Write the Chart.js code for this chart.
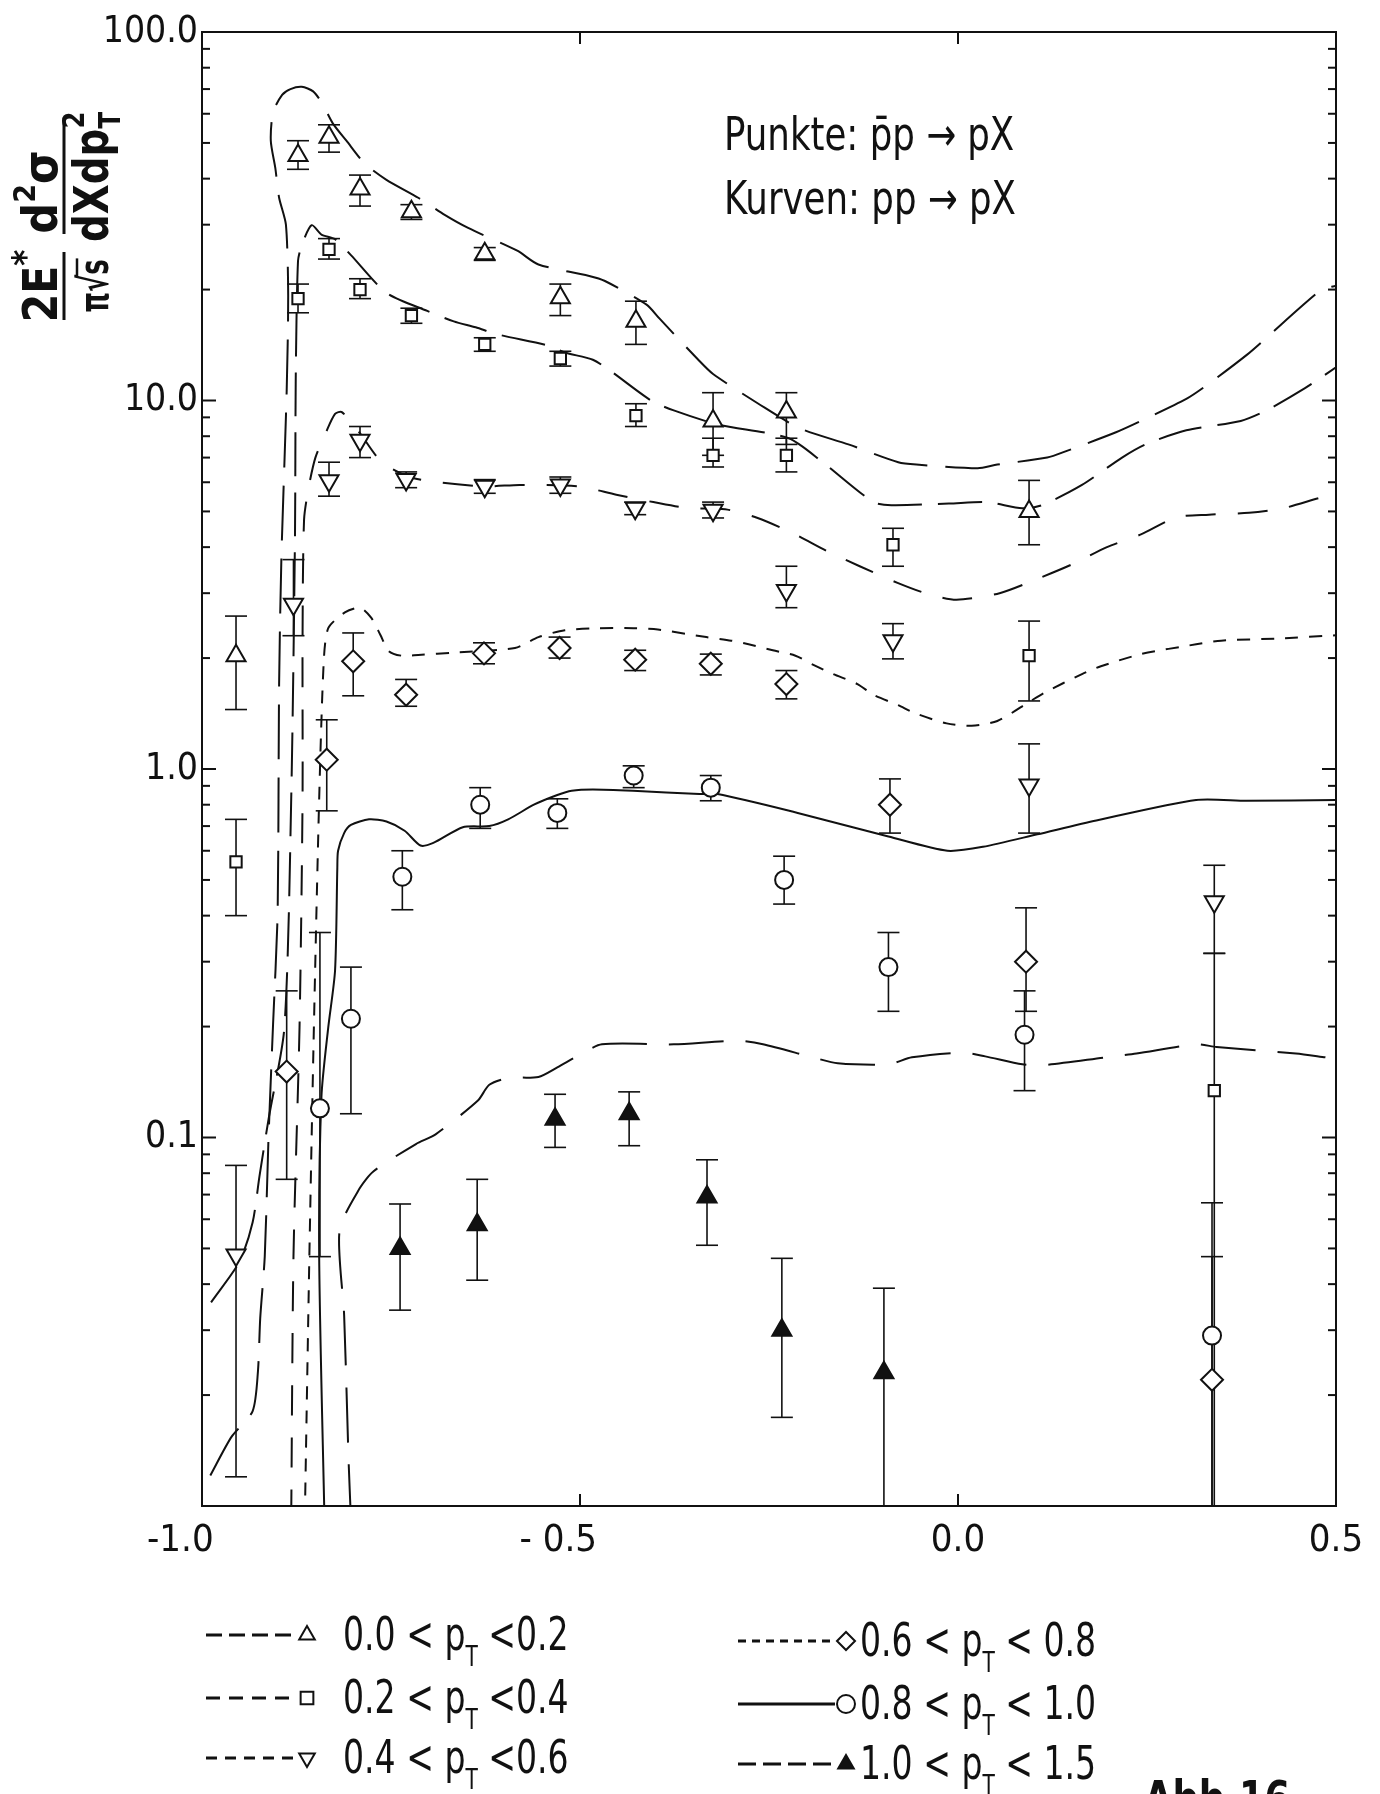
<!DOCTYPE html>
<html>
<head>
<meta charset="utf-8">
<script src="https://cdn.jsdelivr.net/npm/chart.js@4.4.0/dist/chart.umd.min.js"></script>
<style>
  html, body { margin: 0; padding: 0; background: #fff; }
  #wrap { width: 1380px; height: 1794px; }
</style>
</head>
<body>
<div id="wrap"><canvas id="chart" width="1380" height="1794"></canvas></div>
<script>
const INK = '#111';
const FONT = "'DejaVu Sans Condensed', 'Liberation Sans Narrow', sans-serif";

// axis ticks
const xTickValues = [-1.0, -0.5, 0.0, 0.5];
const xTickLabels = ['-1.0    ', '- 0.5    ', '0.0', '0.5'];
const yTickValues = [0.1, 1, 10, 100];
const yTickLabels = ['0.1', '1.0', '10.0', '100.0'];

// pT bins (legend)
const binLow  = ['0.0', '0.2', '0.4', '0.6', '0.8', '1.0'];
const binHigh = ['0.2', '0.4', '0.6', '0.8', '1.0', '1.5'];

// Punkte: pbar p -> pX   (value, error low, error high)
const tri_x  = [-0.955, -0.873, -0.832, -0.791, -0.723, -0.626, -0.526, -0.426, -0.324, -0.227, 0.094];
const tri_y  = [2.03, 46.2, 51.8, 37.5, 32.5, 25.0, 19.0, 16.4, 8.8, 9.3, 5.0];
const tri_lo = [1.45, 42.4, 47.2, 33.7, 31.0, 24.0, 17.0, 14.2, 7.1, 7.6, 4.06];
const tri_hi = [2.6, 50.7, 56.0, 40.9, 34.0, 26.0, 20.7, 18.6, 10.5, 10.5, 6.07];

const sq_x  = [-0.955, -0.873, -0.832, -0.791, -0.723, -0.626, -0.526, -0.426, -0.324, -0.227, -0.086, 0.094, 0.339];
const sq_y  = [0.56, 18.9, 25.7, 20.0, 17.0, 14.2, 13.0, 9.1, 7.1, 7.1, 4.06, 2.03, 0.134];
const sq_lo = [0.40, 17.3, 24.2, 18.9, 16.2, 13.6, 12.4, 8.5, 6.6, 6.4, 3.55, 1.53, 0.0095];
const sq_hi = [0.73, 20.7, 27.5, 21.4, 17.8, 14.8, 13.6, 9.8, 7.9, 7.9, 4.5, 2.52, 0.316];

const dtri_x  = [-0.955, -0.879, -0.832, -0.791, -0.730, -0.626, -0.526, -0.427, -0.324, -0.227, -0.086, 0.094, 0.339];
const dtri_y  = [0.048, 2.8, 6.06, 7.8, 6.1, 5.85, 5.9, 5.1, 5.04, 3.05, 2.23, 0.905, 0.436];
const dtri_lo = [0.012, 2.3, 5.5, 7.0, 5.8, 5.6, 5.6, 4.9, 4.8, 2.74, 1.99, 0.67, 0.316];
const dtri_hi = [0.084, 3.7, 6.8, 8.5, 6.4, 6.1, 6.2, 5.3, 5.3, 3.55, 2.48, 1.17, 0.548];

const dia_x  = [-0.888, -0.835, -0.800, -0.730, -0.627, -0.527, -0.427, -0.327, -0.227, -0.090, 0.090, 0.336];
const dia_y  = [0.151, 1.06, 1.96, 1.59, 2.06, 2.13, 1.98, 1.93, 1.70, 0.80, 0.30, 0.022];
const dia_lo = [0.077, 0.77, 1.58, 1.48, 1.93, 2.0, 1.85, 1.80, 1.55, 0.67, 0.22, 0.0095];
const dia_hi = [0.25, 1.36, 2.34, 1.75, 2.2, 2.28, 2.1, 2.05, 1.85, 0.94, 0.42, 0.0475];

const circ_x  = [-0.844, -0.803, -0.735, -0.632, -0.530, -0.429, -0.327, -0.230, -0.092, 0.088, 0.336];
const circ_y  = [0.12, 0.21, 0.51, 0.80, 0.76, 0.96, 0.89, 0.50, 0.29, 0.19, 0.029];
const circ_lo = [0.0475, 0.116, 0.415, 0.69, 0.69, 0.89, 0.82, 0.43, 0.22, 0.134, 0.0095];
const circ_hi = [0.36, 0.29, 0.60, 0.89, 0.83, 1.02, 0.96, 0.58, 0.36, 0.25, 0.0665];

const ftri_x  = [-0.738, -0.636, -0.533, -0.435, -0.332, -0.233, -0.098];
const ftri_y  = [0.050, 0.058, 0.112, 0.116, 0.069, 0.030, 0.023];
const ftri_lo = [0.034, 0.041, 0.094, 0.095, 0.051, 0.0174, 0.0095];
const ftri_hi = [0.066, 0.077, 0.131, 0.133, 0.087, 0.047, 0.039];

// Kurven: pp -> pX
const curveA_x = [-0.989, -0.961, -0.933, -0.926, -0.923, -0.917, -0.912, -0.906, -0.900, -0.898, -0.895, -0.888, -0.886, -0.889, -0.898, -0.903, -0.909, -0.906, -0.894, -0.883, -0.868, -0.853, -0.841, -0.827, -0.809, -0.785, -0.756, -0.714, -0.679, -0.648, -0.583, -0.555, -0.489, -0.467, -0.412, -0.395, -0.342, -0.324, -0.264, -0.209, -0.145, -0.079, -0.055, 0.026, 0.052, 0.118, 0.144, 0.209, 0.242, 0.302, 0.329, 0.382, 0.408, 0.453, 0.480, 0.5];
const curveA_y = [0.0121, 0.0154, 0.0181, 0.0232, 0.0323, 0.0475, 0.100, 0.203, 0.406, 1.70, 3.73, 10.6, 19.3, 30.0, 35.5, 42.7, 50.7, 60.6, 67.5, 70, 71, 69, 64, 56.5, 50.7, 44, 39.7, 35.5, 31.9, 29.4, 25.5, 23.4, 21.8, 21.1, 18.2, 16.7, 12.8, 11.8, 9.8, 8.4, 7.6, 6.8, 6.7, 6.55, 6.7, 7.0, 7.3, 8.2, 8.8, 10.1, 11.0, 13.3, 14.8, 17.9, 19.9, 20.5];

const curveB_x = [-0.988, -0.950, -0.933, -0.924, -0.912, -0.891, -0.882, -0.877, -0.876, -0.873, -0.868, -0.855, -0.842, -0.824, -0.803, -0.756, -0.702, -0.667, -0.638, -0.608, -0.542, -0.520, -0.483, -0.459, -0.406, -0.376, -0.317, -0.224, -0.179, -0.112, -0.088, -0.012, 0.038, 0.085, 0.111, 0.164, 0.217, 0.248, 0.302, 0.374, 0.408, 0.459, 0.5];
const curveB_y = [0.0357, 0.0462, 0.0589, 0.0784, 0.112, 0.199, 0.830, 4.30, 11.5, 23.9, 26.4, 29.9, 28.2, 27.4, 24.8, 19.6, 17.5, 16.4, 15.8, 15.1, 14.1, 13.5, 12.9, 12.0, 10.0, 9.4, 8.6, 7.9, 6.8, 5.3, 5.2, 5.25, 5.3, 5.1, 5.2, 5.9, 7.0, 7.6, 8.3, 8.8, 9.4, 10.8, 12.3];

const curveC_x = [-0.882, -0.879, -0.871, -0.867, -0.867, -0.865, -0.859, -0.850, -0.836, -0.824, -0.815, -0.792, -0.762, -0.720, -0.629, -0.580, -0.502, -0.452, -0.403, -0.356, -0.308, -0.265, -0.218, -0.173, -0.130, -0.080, -0.041, -0.002, 0.055, 0.105, 0.152, 0.197, 0.242, 0.289, 0.332, 0.385, 0.430, 0.480, 0.506];
const curveC_y = [0.0092, 0.0475, 0.199, 0.830, 2.26, 4.75, 5.8, 7.0, 8.2, 9.2, 9.3, 8.2, 6.8, 6.15, 5.85, 5.9, 5.85, 5.55, 5.3, 5.1, 5.07, 4.8, 4.36, 3.9, 3.55, 3.2, 2.99, 2.88, 3.0, 3.28, 3.6, 4.0, 4.33, 4.82, 4.9, 4.96, 5.1, 5.45, 5.6];

const curveD_x = [-0.864, -0.858, -0.852, -0.845, -0.839, -0.833, -0.811, -0.791, -0.776, -0.764, -0.753, -0.736, -0.714, -0.664, -0.586, -0.555, -0.520, -0.476, -0.429, -0.397, -0.333, -0.300, -0.277, -0.245, -0.215, -0.192, -0.165, -0.133, -0.112, -0.079, -0.058, -0.015, 0.018, 0.052, 0.094, 0.114, 0.164, 0.189, 0.242, 0.315, 0.348, 0.423, 0.506];
const curveD_y = [0.0092, 0.0475, 0.199, 0.830, 1.95, 2.41, 2.66, 2.74, 2.57, 2.31, 2.09, 2.03, 2.04, 2.07, 2.13, 2.28, 2.38, 2.41, 2.41, 2.39, 2.28, 2.23, 2.18, 2.10, 2.03, 1.92, 1.81, 1.70, 1.59, 1.49, 1.42, 1.33, 1.31, 1.35, 1.52, 1.61, 1.81, 1.90, 2.05, 2.18, 2.23, 2.26, 2.31];

const curveE_x = [-0.838, -0.845, -0.842, -0.833, -0.824, -0.821, -0.820, -0.812, -0.803, -0.779, -0.756, -0.732, -0.711, -0.694, -0.655, -0.620, -0.595, -0.561, -0.530, -0.511, -0.483, -0.430, -0.342, -0.318, -0.212, -0.092, -0.014, 0.033, 0.105, 0.183, 0.315, 0.382, 0.5];
const curveE_y = [0.0092, 0.0475, 0.129, 0.199, 0.284, 0.54, 0.60, 0.67, 0.705, 0.73, 0.72, 0.68, 0.62, 0.63, 0.695, 0.70, 0.73, 0.80, 0.85, 0.873, 0.88, 0.873, 0.855, 0.855, 0.76, 0.656, 0.60, 0.615, 0.665, 0.725, 0.824, 0.82, 0.824];

const curveF_x = [-0.803, -0.806, -0.812, -0.818, -0.791, -0.773, -0.717, -0.691, -0.635, -0.620, -0.595, -0.555, -0.530, -0.502, -0.471, -0.376, -0.291, -0.258, -0.192, -0.159, -0.092, -0.061, 0.006, 0.036, 0.085, 0.111, 0.195, 0.236, 0.315, 0.342, 0.447, 0.486];
const curveF_y = [0.0092, 0.0131, 0.033, 0.056, 0.073, 0.081, 0.096, 0.102, 0.126, 0.139, 0.145, 0.146, 0.155, 0.167, 0.179, 0.179, 0.183, 0.179, 0.165, 0.159, 0.158, 0.165, 0.170, 0.166, 0.158, 0.157, 0.165, 0.169, 0.179, 0.176, 0.169, 0.165];

function pts(xs, ys) { return xs.map((v, i) => ({ x: v, y: ys[i] })); }

const series = [
  { x: tri_x,  y: tri_y,  lo: tri_lo,  hi: tri_hi,  style: 'triangle', rot: 0,   r: 11, fill: '#fff', cx: curveA_x, cy: curveA_y, dash: [55, 18], leg: [16, 7] },
  { x: sq_x,   y: sq_y,   lo: sq_lo,   hi: sq_hi,   style: 'rect',     rot: 0,   r: 8,  fill: '#fff', cx: curveB_x, cy: curveB_y, dash: [44, 16], leg: [14, 9] },
  { x: dtri_x, y: dtri_y, lo: dtri_lo, hi: dtri_hi, style: 'triangle', rot: 180, r: 11, fill: '#fff', cx: curveC_x, cy: curveC_y, dash: [30, 22], leg: [11, 8] },
  { x: dia_x,  y: dia_y,  lo: dia_lo,  hi: dia_hi,  style: 'rectRot',  rot: 0,   r: 11, fill: '#fff', cx: curveD_x, cy: curveD_y, dash: [13, 11], leg: [8, 6] },
  { x: circ_x, y: circ_y, lo: circ_lo, hi: circ_hi, style: 'circle',   rot: 0,   r: 9,  fill: '#fff', cx: curveE_x, cy: curveE_y, dash: [],       leg: [] },
  { x: ftri_x, y: ftri_y, lo: ftri_lo, hi: ftri_hi, style: 'triangle', rot: 0,   r: 11, fill: INK,    cx: curveF_x, cy: curveF_y, dash: [55, 22], leg: [18, 7] }
];

const datasets = [];
series.forEach(s => {
  datasets.push({
    data: pts(s.cx, s.cy), showLine: true, pointRadius: 0, borderColor: INK,
    borderWidth: 2, borderDash: s.dash, tension: 0.25, fill: false, order: 2
  });
});
series.forEach(s => {
  datasets.push({
    data: pts(s.x, s.y), showLine: false, pointStyle: s.style, pointRotation: s.rot,
    pointRadius: s.r, pointBorderWidth: 2, pointBorderColor: INK,
    pointBackgroundColor: s.fill, order: 0
  });
});

function seg(ctx, x1, y1, x2, y2) { ctx.beginPath(); ctx.moveTo(x1, y1); ctx.lineTo(x2, y2); ctx.stroke(); }

const errorBars = {
  id: 'errorBars',
  beforeDatasetsDraw(chart) {
    const { ctx, chartArea: a, scales: { x, y } } = chart;
    ctx.save();
    ctx.beginPath(); ctx.rect(a.left, a.top, a.right - a.left, a.bottom - a.top); ctx.clip();
    ctx.strokeStyle = INK; ctx.lineWidth = 1.6;
    series.forEach(s => {
      s.x.forEach((xv, i) => {
        const px = x.getPixelForValue(xv);
        const pl = y.getPixelForValue(s.lo[i]);
        const ph = y.getPixelForValue(s.hi[i]);
        seg(ctx, px, pl, px, ph);
        seg(ctx, px - 11, ph, px + 11, ph);
        seg(ctx, px - 11, pl, px + 11, pl);
      });
    });
    ctx.restore();
  }
};

const frame = {
  id: 'frame',
  afterDatasetsDraw(chart) {
    const { ctx, chartArea: a, scales: { x, y } } = chart;
    ctx.save();
    ctx.strokeStyle = INK; ctx.lineWidth = 2;
    ctx.strokeRect(a.left, a.top, a.right - a.left, a.bottom - a.top);
    for (let e = -2; e < 2; e++) {
      for (let m = 1; m < 10; m++) {
        const py = y.getPixelForValue(m * Math.pow(10, e));
        const len = m === 1 ? 14 : 8;
        seg(ctx, a.left, py, a.left + len, py);
        seg(ctx, a.right, py, a.right - len, py);
      }
    }
    xTickValues.slice(1, -1).forEach(v => {
      const px = x.getPixelForValue(v);
      seg(ctx, px, a.top, px, a.top + 12);
      seg(ctx, px, a.bottom, px, a.bottom - 12);
    });
    ctx.restore();
  }
};

// runs of text: [text, size, dy, 'stack'?]; sx squeezes horizontally
function runsWidth(ctx, runs, weight, sx) {
  let w = 0;
  runs.forEach(r => { ctx.font = `${weight} ${r[1]}px ${FONT}`; if (r[3] !== 'stack') w += ctx.measureText(r[0]).width; });
  return w * sx;
}
function drawRuns(ctx, runs, x0, base, weight, sx) {
  const stops = [];
  ctx.save();
  ctx.translate(x0, base);
  ctx.scale(sx, 1);
  let x = 0;
  runs.forEach(r => {
    ctx.font = `${weight} ${r[1]}px ${FONT}`;
    stops.push(x * sx);
    ctx.fillText(r[0], x, r[2]);
    if (r[3] !== 'stack') x += ctx.measureText(r[0]).width;
  });
  stops.push(x * sx);
  ctx.restore();
  return stops;
}

const texts = {
  id: 'texts',
  afterDraw(chart) {
    const ctx = chart.ctx;
    ctx.save();
    ctx.fillStyle = INK; ctx.strokeStyle = INK;
    ctx.textBaseline = 'alphabetic'; ctx.textAlign = 'left';

    // y title, rotated
    ctx.save();
    ctx.translate(64, 220);
    ctx.rotate(-Math.PI / 2);
    const num1 = [['2E', 48, 0], ['*', 36, -20]];
    let w = runsWidth(ctx, num1, 'bold', 0.95);
    drawRuns(ctx, num1, -66 - w / 2, -7, 'bold', 0.95);
    const den1 = [['\u03c0', 40, 0], ['\u221a', 40, 0], ['s', 40, 0]];
    w = runsWidth(ctx, den1, 'bold', 0.72);
    const st = drawRuns(ctx, den1, -66 - w / 2, 44, 'bold', 0.72);
    ctx.lineWidth = 2.5;
    seg(ctx, -66 - w / 2 + st[2] - 2, 44 - 31, -66 - w / 2 + st[3] + 1, 44 - 31);
    ctx.lineWidth = 3;
    seg(ctx, -100, 0, -32, 0);
    const num2 = [['d', 48, 0], ['2', 30, -22], ['\u03c3', 48, 0]];
    w = runsWidth(ctx, num2, 'bold', 1);
    drawRuns(ctx, num2, 28 - w / 2, -7, 'bold', 1);
    const den2 = [['dXdp', 48, 0], ['2', 30, -24, 'stack'], ['T', 30, 12]];
    w = runsWidth(ctx, den2, 'bold', 0.9);
    drawRuns(ctx, den2, 43 - w / 2, 44, 'bold', 0.9);
    seg(ctx, -14, 0, 100, 0);
    ctx.restore();

    // annotation
    drawRuns(ctx, [['Punkte: p\u0304p \u2192 pX', 46, 0]], 724, 150, 'normal', 0.86);
    drawRuns(ctx, [['Kurven: pp \u2192 pX', 46, 0]], 724, 214, 'normal', 0.86);

    // legend
    const cols = [{ x: 206, line: 92, sym: 101, txt: 137, gap: ' <' }, { x: 738, line: 97, sym: 108, txt: 122, gap: ' < ' }];
    const bases = [1650, 1713, 1773];
    series.forEach((s, i) => {
      const c = cols[Math.floor(i / 3)];
      const base = bases[i % 3] + (i >= 3 ? 6 : 0);
      const my = base - 15;
      ctx.save();
      ctx.lineWidth = 3;
      ctx.setLineDash(s.leg);
      seg(ctx, c.x, my, c.x + c.line, my);
      ctx.restore();
      ctx.lineWidth = 2;
      ctx.fillStyle = s.fill;
      Chart.helpers.drawPoint(ctx, { pointStyle: s.style, radius: 9, rotation: s.rot, borderWidth: 2 }, c.x + c.sym, my);
      ctx.fillStyle = INK;
      drawRuns(ctx, [[binLow[i] + ' < p', 46, 0], ['T', 28, 16], [c.gap + binHigh[i], 46, 0]], c.x + c.txt, base, 'normal', 0.8);
    });

    drawRuns(ctx, [['Abb.16', 48, 0]], 1144, 1815, 'bold', 0.85);
    ctx.restore();
  }
};

new Chart(document.getElementById('chart'), {
  type: 'scatter',
  data: { datasets: datasets },
  options: {
    responsive: false,
    animation: false,
    events: [],
    devicePixelRatio: 1,
    layout: { padding: { left: 0, top: 32, right: 44, bottom: 228 } },
    plugins: { legend: { display: false }, tooltip: { enabled: false } },
    scales: {
      x: {
        type: 'linear', min: -1.0, max: 0.5,
        grid: { display: false, drawTicks: false },
        border: { display: false },
        afterBuildTicks: s => { s.ticks = xTickValues.map(v => ({ value: v })); },
        afterFit: s => { s.height = 60; },
        ticks: {
          autoSkip: false, maxRotation: 0, padding: 12, color: INK,
          font: { family: FONT, size: 38 },
          callback: (v, i) => xTickLabels[i]
        }
      },
      y: {
        type: 'logarithmic', min: 0.01, max: 100,
        grid: { display: false, drawTicks: false },
        border: { display: false },
        afterBuildTicks: s => { s.ticks = yTickValues.map(v => ({ value: v })); },
        afterFit: s => { s.width = 202; },
        ticks: {
          autoSkip: false, padding: 4, color: INK,
          font: { family: FONT, size: 37 },
          callback: (v, i) => yTickLabels[i]
        }
      }
    }
  },
  plugins: [errorBars, frame, texts]
});
</script>
</body>
</html>
